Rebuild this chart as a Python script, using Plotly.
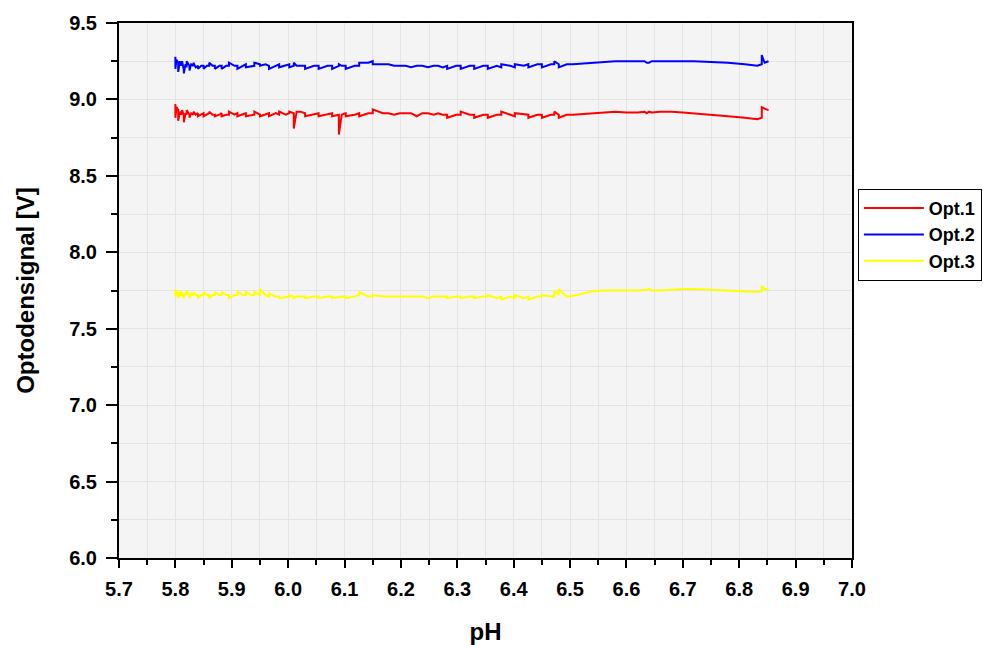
import plotly.graph_objects as go

ph = [
    5.800, 5.800, 5.802, 5.805, 5.805, 5.808, 5.810, 5.812, 5.815, 5.815,
    5.818, 5.820, 5.820, 5.825, 5.825, 5.828, 5.832, 5.832, 5.836, 5.840,
    5.840, 5.846, 5.850, 5.850, 5.856, 5.860, 5.860, 5.866, 5.870, 5.870,
    5.878, 5.882, 5.882, 5.890, 5.895, 5.895, 5.905, 5.910, 5.910, 5.920,
    5.925, 5.925, 5.935, 5.940, 5.940, 5.950, 5.950, 5.960, 5.966, 5.966,
    5.978, 5.984, 5.984, 5.996, 6.002, 6.002, 6.010, 6.010, 6.015, 6.022,
    6.030, 6.030, 6.046, 6.054, 6.054, 6.070, 6.078, 6.078, 6.090, 6.090,
    6.095, 6.102, 6.102, 6.118, 6.126, 6.126, 6.142, 6.150, 6.150, 6.168,
    6.178, 6.188, 6.198, 6.208, 6.218, 6.228, 6.238, 6.248, 6.258, 6.266,
    6.274, 6.282, 6.282, 6.298, 6.306, 6.306, 6.322, 6.330, 6.330, 6.346,
    6.354, 6.354, 6.370, 6.378, 6.378, 6.394, 6.402, 6.402, 6.418, 6.426,
    6.426, 6.442, 6.450, 6.450, 6.466, 6.472, 6.472, 6.480, 6.480, 6.494,
    6.505, 6.520, 6.540, 6.560, 6.580, 6.600, 6.620, 6.632, 6.636, 6.640,
    6.645, 6.660, 6.680, 6.700, 6.720, 6.750, 6.780, 6.810, 6.830, 6.832,
    6.840, 6.840, 6.845, 6.850, 6.852,
]

opt1 = [
    8.97, 8.88, 8.95, 8.93, 8.86, 8.92, 8.90, 8.93, 8.89, 8.85,
    8.91, 8.90, 8.93, 8.90, 8.88, 8.91, 8.90, 8.92, 8.90, 8.91,
    8.89, 8.90, 8.91, 8.89, 8.90, 8.91, 8.92, 8.90, 8.90, 8.89,
    8.90, 8.91, 8.89, 8.90, 8.90, 8.92, 8.90, 8.91, 8.89, 8.90,
    8.91, 8.89, 8.90, 8.90, 8.92, 8.90, 8.89, 8.90, 8.91, 8.89,
    8.91, 8.90, 8.92, 8.90, 8.91, 8.92, 8.91, 8.81, 8.92, 8.92,
    8.91, 8.89, 8.90, 8.91, 8.89, 8.90, 8.91, 8.89, 8.90, 8.77,
    8.90, 8.91, 8.89, 8.90, 8.91, 8.89, 8.91, 8.91, 8.935, 8.91,
    8.91, 8.90, 8.91, 8.91, 8.91, 8.89, 8.91, 8.91, 8.90, 8.91,
    8.90, 8.90, 8.88, 8.90, 8.90, 8.92, 8.90, 8.90, 8.88, 8.90,
    8.90, 8.88, 8.90, 8.90, 8.92, 8.90, 8.89, 8.91, 8.90, 8.90,
    8.88, 8.90, 8.90, 8.88, 8.90, 8.90, 8.92, 8.90, 8.88, 8.90,
    8.90, 8.905, 8.91, 8.915, 8.92, 8.915, 8.915, 8.92, 8.91, 8.92,
    8.915, 8.92, 8.92, 8.915, 8.91, 8.90, 8.89, 8.88, 8.87, 8.87,
    8.88, 8.95, 8.94, 8.93, 8.93,
]

opt2 = [
    9.28, 9.20, 9.26, 9.24, 9.18, 9.25, 9.22, 9.25, 9.19, 9.17,
    9.23, 9.21, 9.25, 9.22, 9.19, 9.23, 9.22, 9.24, 9.21, 9.22,
    9.20, 9.22, 9.22, 9.20, 9.22, 9.22, 9.24, 9.22, 9.22, 9.20,
    9.22, 9.22, 9.20, 9.22, 9.22, 9.24, 9.22, 9.22, 9.20, 9.22,
    9.23, 9.21, 9.22, 9.22, 9.24, 9.23, 9.22, 9.23, 9.22, 9.20,
    9.22, 9.23, 9.21, 9.22, 9.23, 9.21, 9.22, 9.24, 9.22, 9.22,
    9.22, 9.20, 9.22, 9.22, 9.20, 9.22, 9.22, 9.20, 9.22, 9.23,
    9.22, 9.22, 9.20, 9.22, 9.22, 9.24, 9.24, 9.25, 9.23, 9.23,
    9.23, 9.22, 9.22, 9.22, 9.21, 9.22, 9.22, 9.21, 9.22, 9.22,
    9.21, 9.22, 9.20, 9.22, 9.22, 9.20, 9.22, 9.22, 9.20, 9.22,
    9.22, 9.20, 9.22, 9.21, 9.23, 9.22, 9.21, 9.23, 9.22, 9.23,
    9.21, 9.23, 9.23, 9.21, 9.23, 9.23, 9.25, 9.23, 9.21, 9.23,
    9.23, 9.235, 9.24, 9.245, 9.25, 9.25, 9.25, 9.25, 9.24, 9.24,
    9.25, 9.25, 9.25, 9.25, 9.25, 9.245, 9.24, 9.23, 9.22, 9.22,
    9.23, 9.29, 9.24, 9.25, 9.25,
]

opt3 = [
    7.76, 7.71, 7.74, 7.73, 7.70, 7.75, 7.71, 7.74, 7.70, 7.71,
    7.73, 7.72, 7.75, 7.72, 7.70, 7.73, 7.72, 7.74, 7.72, 7.72,
    7.70, 7.72, 7.72, 7.74, 7.72, 7.72, 7.70, 7.72, 7.72, 7.74,
    7.72, 7.72, 7.74, 7.72, 7.72, 7.70, 7.72, 7.72, 7.74, 7.72,
    7.72, 7.74, 7.72, 7.72, 7.74, 7.72, 7.76, 7.72, 7.71, 7.73,
    7.71, 7.71, 7.70, 7.71, 7.71, 7.72, 7.71, 7.70, 7.71, 7.71,
    7.71, 7.70, 7.71, 7.71, 7.70, 7.71, 7.71, 7.70, 7.71, 7.71,
    7.71, 7.71, 7.70, 7.71, 7.72, 7.74, 7.71, 7.71, 7.72, 7.71,
    7.71, 7.71, 7.71, 7.71, 7.71, 7.71, 7.71, 7.70, 7.71, 7.71,
    7.71, 7.71, 7.70, 7.71, 7.71, 7.70, 7.71, 7.71, 7.70, 7.71,
    7.71, 7.72, 7.70, 7.71, 7.69, 7.71, 7.70, 7.72, 7.70, 7.71,
    7.69, 7.71, 7.71, 7.72, 7.71, 7.71, 7.75, 7.72, 7.76, 7.71,
    7.715, 7.73, 7.745, 7.75, 7.75, 7.75, 7.75, 7.755, 7.75, 7.76,
    7.75, 7.75, 7.755, 7.76, 7.76, 7.755, 7.75, 7.745, 7.74, 7.74,
    7.745, 7.78, 7.76, 7.76, 7.75,
]

series_names = ["Opt.1", "Opt.2", "Opt.3"]
series_colors = ["#ff0000", "#0000ff", "#ffff00"]
x_ticks = [5.7, 5.8, 5.9, 6.0, 6.1, 6.2, 6.3, 6.4, 6.5, 6.6, 6.7, 6.8, 6.9, 7.0]
y_ticks = [6.0, 6.5, 7.0, 7.5, 8.0, 8.5, 9.0, 9.5]

FONT = "Liberation Sans, Arial, sans-serif"

fig = go.Figure()
for name, ys, col in zip(series_names, [opt1, opt2, opt3], series_colors):
    fig.add_trace(go.Scatter(x=ph, y=ys, mode="lines", name=name,
                             line=dict(color=col, width=2)))

tick_font = dict(family=FONT, size=20, color="black", weight="bold")
title_font = dict(family=FONT, size=24, color="black", weight="bold")

axis_common = dict(
    showline=True, linecolor="black", linewidth=2, mirror=True,
    ticks="outside", tickwidth=2, tickcolor="black",
    showgrid=True, gridcolor="#e4e4e4", gridwidth=1,
    zeroline=False,
    tickfont=tick_font,
    tickformat=".1f",
)

fig.update_layout(
    width=983, height=645,
    margin=dict(l=119, r=131, t=23, b=87, autoexpand=False),
    paper_bgcolor="white", plot_bgcolor="#f4f4f4",
    font=dict(family=FONT, color="black"),
    showlegend=True,
    legend=dict(x=1.008, y=0.69, xanchor="left", yanchor="top",
                bgcolor="white", bordercolor="black", borderwidth=1,
                font=dict(family=FONT, size=18, color="black", weight="bold"),
                tracegroupgap=0, itemwidth=60),
    xaxis=dict(
        range=[5.7, 7.0], tickvals=x_ticks, ticklen=8, ticklabelstandoff=4,
        minor=dict(dtick=0.05, tick0=5.7, ticks="outside", ticklen=5, tickwidth=2,
                   tickcolor="black", showgrid=True, gridcolor="#e4e4e4"),
        title=dict(text="pH", standoff=24, font=title_font),
        **axis_common,
    ),
    yaxis=dict(
        range=[6.0, 9.5], tickvals=y_ticks, ticklen=11, ticklabelstandoff=5,
        minor=dict(dtick=0.25, tick0=6.0, ticks="outside", ticklen=6, tickwidth=2,
                   tickcolor="black", showgrid=True, gridcolor="#e4e4e4"),
        title=dict(text="Optodensignal [V]", standoff=28, font=title_font),
        **axis_common,
    ),
)

fig.write_html("out.html")
